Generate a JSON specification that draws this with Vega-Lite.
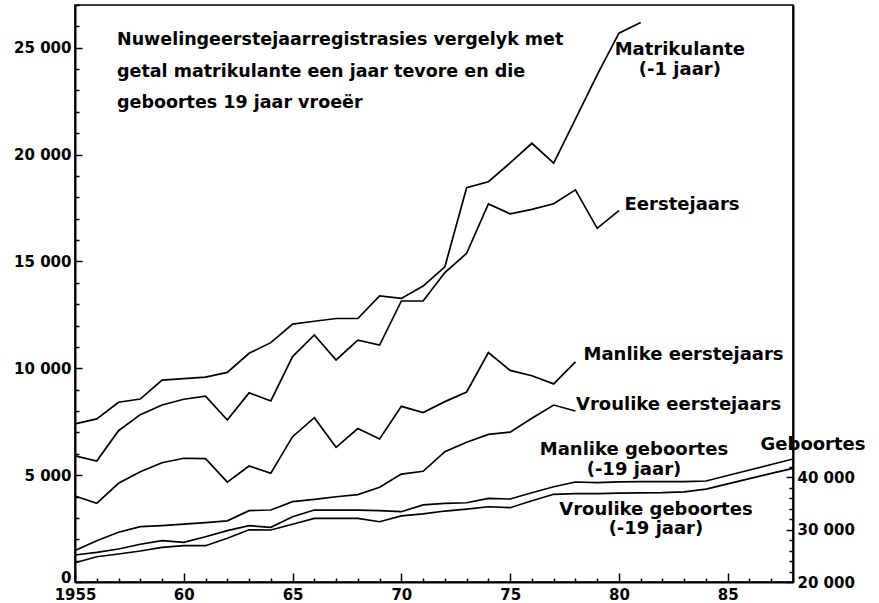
{
  "$schema": "https://vega.github.io/schema/vega-lite/v6.json",
  "width": 718,
  "height": 577,
  "autosize": {"type": "none"},
  "padding": {"left": 75, "top": 5, "right": 86, "bottom": 21},
  "background": "white",
  "config": {
    "view": {"stroke": "black", "strokeWidth": 1.6},
    "axis": {
      "domainColor": "black", "domainWidth": 2, "tickColor": "black", "tickWidth": 1.5,
      "labelColor": "black", "labelFont": "DejaVu Sans", "labelFontWeight": "bold", "labelFontSize": 15,
      "grid": false, "labelOverlap": false, "labelFlush": false, "labelBound": false, "title": null
    },
    "text": {"font": "DejaVu Sans", "fontWeight": "bold", "color": "black"}
  },
  "datasets": {
    "studente": [
      {"jaar":1955,"reeks":"Matrikulante","aantal":7400},{"jaar":1956,"reeks":"Matrikulante","aantal":7630},{"jaar":1957,"reeks":"Matrikulante","aantal":8410},{"jaar":1958,"reeks":"Matrikulante","aantal":8560},{"jaar":1959,"reeks":"Matrikulante","aantal":9450},{"jaar":1960,"reeks":"Matrikulante","aantal":9520},{"jaar":1961,"reeks":"Matrikulante","aantal":9590},{"jaar":1962,"reeks":"Matrikulante","aantal":9810},{"jaar":1963,"reeks":"Matrikulante","aantal":10700},{"jaar":1964,"reeks":"Matrikulante","aantal":11200},{"jaar":1965,"reeks":"Matrikulante","aantal":12070},{"jaar":1966,"reeks":"Matrikulante","aantal":12200},{"jaar":1967,"reeks":"Matrikulante","aantal":12330},{"jaar":1968,"reeks":"Matrikulante","aantal":12330},{"jaar":1969,"reeks":"Matrikulante","aantal":13390},{"jaar":1970,"reeks":"Matrikulante","aantal":13270},{"jaar":1971,"reeks":"Matrikulante","aantal":13850},{"jaar":1972,"reeks":"Matrikulante","aantal":14750},{"jaar":1973,"reeks":"Matrikulante","aantal":18450},{"jaar":1974,"reeks":"Matrikulante","aantal":18730},{"jaar":1975,"reeks":"Matrikulante","aantal":19610},{"jaar":1976,"reeks":"Matrikulante","aantal":20530},{"jaar":1977,"reeks":"Matrikulante","aantal":19600},{"jaar":1978,"reeks":"Matrikulante","aantal":21660},{"jaar":1979,"reeks":"Matrikulante","aantal":23730},{"jaar":1980,"reeks":"Matrikulante","aantal":25680},{"jaar":1981,"reeks":"Matrikulante","aantal":26180},
      {"jaar":1955,"reeks":"Eerstejaars","aantal":5900},{"jaar":1956,"reeks":"Eerstejaars","aantal":5660},{"jaar":1957,"reeks":"Eerstejaars","aantal":7080},{"jaar":1958,"reeks":"Eerstejaars","aantal":7830},{"jaar":1959,"reeks":"Eerstejaars","aantal":8280},{"jaar":1960,"reeks":"Eerstejaars","aantal":8550},{"jaar":1961,"reeks":"Eerstejaars","aantal":8700},{"jaar":1962,"reeks":"Eerstejaars","aantal":7580},{"jaar":1963,"reeks":"Eerstejaars","aantal":8850},{"jaar":1964,"reeks":"Eerstejaars","aantal":8470},{"jaar":1965,"reeks":"Eerstejaars","aantal":10550},{"jaar":1966,"reeks":"Eerstejaars","aantal":11560},{"jaar":1967,"reeks":"Eerstejaars","aantal":10390},{"jaar":1968,"reeks":"Eerstejaars","aantal":11320},{"jaar":1969,"reeks":"Eerstejaars","aantal":11090},{"jaar":1970,"reeks":"Eerstejaars","aantal":13150},{"jaar":1971,"reeks":"Eerstejaars","aantal":13150},{"jaar":1972,"reeks":"Eerstejaars","aantal":14480},{"jaar":1973,"reeks":"Eerstejaars","aantal":15380},{"jaar":1974,"reeks":"Eerstejaars","aantal":17690},{"jaar":1975,"reeks":"Eerstejaars","aantal":17230},{"jaar":1976,"reeks":"Eerstejaars","aantal":17440},{"jaar":1977,"reeks":"Eerstejaars","aantal":17700},{"jaar":1978,"reeks":"Eerstejaars","aantal":18350},{"jaar":1979,"reeks":"Eerstejaars","aantal":16550},{"jaar":1980,"reeks":"Eerstejaars","aantal":17380},
      {"jaar":1955,"reeks":"Manlike eerstejaars","aantal":4025},{"jaar":1956,"reeks":"Manlike eerstejaars","aantal":3680},{"jaar":1957,"reeks":"Manlike eerstejaars","aantal":4620},{"jaar":1958,"reeks":"Manlike eerstejaars","aantal":5160},{"jaar":1959,"reeks":"Manlike eerstejaars","aantal":5580},{"jaar":1960,"reeks":"Manlike eerstejaars","aantal":5790},{"jaar":1961,"reeks":"Manlike eerstejaars","aantal":5770},{"jaar":1962,"reeks":"Manlike eerstejaars","aantal":4670},{"jaar":1963,"reeks":"Manlike eerstejaars","aantal":5430},{"jaar":1964,"reeks":"Manlike eerstejaars","aantal":5090},{"jaar":1965,"reeks":"Manlike eerstejaars","aantal":6800},{"jaar":1966,"reeks":"Manlike eerstejaars","aantal":7690},{"jaar":1967,"reeks":"Manlike eerstejaars","aantal":6300},{"jaar":1968,"reeks":"Manlike eerstejaars","aantal":7180},{"jaar":1969,"reeks":"Manlike eerstejaars","aantal":6690},{"jaar":1970,"reeks":"Manlike eerstejaars","aantal":8220},{"jaar":1971,"reeks":"Manlike eerstejaars","aantal":7930},{"jaar":1972,"reeks":"Manlike eerstejaars","aantal":8440},{"jaar":1973,"reeks":"Manlike eerstejaars","aantal":8890},{"jaar":1974,"reeks":"Manlike eerstejaars","aantal":10740},{"jaar":1975,"reeks":"Manlike eerstejaars","aantal":9900},{"jaar":1976,"reeks":"Manlike eerstejaars","aantal":9650},{"jaar":1977,"reeks":"Manlike eerstejaars","aantal":9270},{"jaar":1978,"reeks":"Manlike eerstejaars","aantal":10300},
      {"jaar":1955,"reeks":"Vroulike eerstejaars","aantal":1470},{"jaar":1956,"reeks":"Vroulike eerstejaars","aantal":1930},{"jaar":1957,"reeks":"Vroulike eerstejaars","aantal":2330},{"jaar":1958,"reeks":"Vroulike eerstejaars","aantal":2590},{"jaar":1959,"reeks":"Vroulike eerstejaars","aantal":2640},{"jaar":1960,"reeks":"Vroulike eerstejaars","aantal":2710},{"jaar":1961,"reeks":"Vroulike eerstejaars","aantal":2780},{"jaar":1962,"reeks":"Vroulike eerstejaars","aantal":2860},{"jaar":1963,"reeks":"Vroulike eerstejaars","aantal":3340},{"jaar":1964,"reeks":"Vroulike eerstejaars","aantal":3370},{"jaar":1965,"reeks":"Vroulike eerstejaars","aantal":3760},{"jaar":1966,"reeks":"Vroulike eerstejaars","aantal":3870},{"jaar":1967,"reeks":"Vroulike eerstejaars","aantal":3990},{"jaar":1968,"reeks":"Vroulike eerstejaars","aantal":4090},{"jaar":1969,"reeks":"Vroulike eerstejaars","aantal":4430},{"jaar":1970,"reeks":"Vroulike eerstejaars","aantal":5050},{"jaar":1971,"reeks":"Vroulike eerstejaars","aantal":5180},{"jaar":1972,"reeks":"Vroulike eerstejaars","aantal":6100},{"jaar":1973,"reeks":"Vroulike eerstejaars","aantal":6540},{"jaar":1974,"reeks":"Vroulike eerstejaars","aantal":6910},{"jaar":1975,"reeks":"Vroulike eerstejaars","aantal":7010},{"jaar":1976,"reeks":"Vroulike eerstejaars","aantal":7660},{"jaar":1977,"reeks":"Vroulike eerstejaars","aantal":8280},{"jaar":1978,"reeks":"Vroulike eerstejaars","aantal":8000}
    ],
    "geboortes": [
      {"jaar":1955,"reeks":"Manlike geboortes","aantal":25150},{"jaar":1956,"reeks":"Manlike geboortes","aantal":25660},{"jaar":1957,"reeks":"Manlike geboortes","aantal":26290},{"jaar":1958,"reeks":"Manlike geboortes","aantal":27190},{"jaar":1959,"reeks":"Manlike geboortes","aantal":27870},{"jaar":1960,"reeks":"Manlike geboortes","aantal":27570},{"jaar":1961,"reeks":"Manlike geboortes","aantal":28630},{"jaar":1962,"reeks":"Manlike geboortes","aantal":29780},{"jaar":1963,"reeks":"Manlike geboortes","aantal":30730},{"jaar":1964,"reeks":"Manlike geboortes","aantal":30430},{"jaar":1965,"reeks":"Manlike geboortes","aantal":32450},{"jaar":1966,"reeks":"Manlike geboortes","aantal":33720},{"jaar":1967,"reeks":"Manlike geboortes","aantal":33720},{"jaar":1968,"reeks":"Manlike geboortes","aantal":33720},{"jaar":1969,"reeks":"Manlike geboortes","aantal":33590},{"jaar":1970,"reeks":"Manlike geboortes","aantal":33400},{"jaar":1971,"reeks":"Manlike geboortes","aantal":34700},{"jaar":1972,"reeks":"Manlike geboortes","aantal":35000},{"jaar":1973,"reeks":"Manlike geboortes","aantal":35110},{"jaar":1974,"reeks":"Manlike geboortes","aantal":35950},{"jaar":1975,"reeks":"Manlike geboortes","aantal":35820},{"jaar":1976,"reeks":"Manlike geboortes","aantal":37020},{"jaar":1977,"reeks":"Manlike geboortes","aantal":38160},{"jaar":1978,"reeks":"Manlike geboortes","aantal":39060},{"jaar":1979,"reeks":"Manlike geboortes","aantal":38950},{"jaar":1980,"reeks":"Manlike geboortes","aantal":39100},{"jaar":1981,"reeks":"Manlike geboortes","aantal":39120},{"jaar":1982,"reeks":"Manlike geboortes","aantal":39120},{"jaar":1983,"reeks":"Manlike geboortes","aantal":39150},{"jaar":1984,"reeks":"Manlike geboortes","aantal":39250},{"jaar":1985,"reeks":"Manlike geboortes","aantal":40300},{"jaar":1986,"reeks":"Manlike geboortes","aantal":41350},{"jaar":1987,"reeks":"Manlike geboortes","aantal":42400},{"jaar":1988,"reeks":"Manlike geboortes","aantal":43440},
      {"jaar":1955,"reeks":"Vroulike geboortes","aantal":23680},{"jaar":1956,"reeks":"Vroulike geboortes","aantal":24820},{"jaar":1957,"reeks":"Vroulike geboortes","aantal":25340},{"jaar":1958,"reeks":"Vroulike geboortes","aantal":25910},{"jaar":1959,"reeks":"Vroulike geboortes","aantal":26610},{"jaar":1960,"reeks":"Vroulike geboortes","aantal":26920},{"jaar":1961,"reeks":"Vroulike geboortes","aantal":26920},{"jaar":1962,"reeks":"Vroulike geboortes","aantal":28330},{"jaar":1963,"reeks":"Vroulike geboortes","aantal":29950},{"jaar":1964,"reeks":"Vroulike geboortes","aantal":29910},{"jaar":1965,"reeks":"Vroulike geboortes","aantal":31000},{"jaar":1966,"reeks":"Vroulike geboortes","aantal":32140},{"jaar":1967,"reeks":"Vroulike geboortes","aantal":32140},{"jaar":1968,"reeks":"Vroulike geboortes","aantal":32140},{"jaar":1969,"reeks":"Vroulike geboortes","aantal":31490},{"jaar":1970,"reeks":"Vroulike geboortes","aantal":32600},{"jaar":1971,"reeks":"Vroulike geboortes","aantal":33000},{"jaar":1972,"reeks":"Vroulike geboortes","aantal":33530},{"jaar":1973,"reeks":"Vroulike geboortes","aantal":33910},{"jaar":1974,"reeks":"Vroulike geboortes","aantal":34350},{"jaar":1975,"reeks":"Vroulike geboortes","aantal":34160},{"jaar":1976,"reeks":"Vroulike geboortes","aantal":35500},{"jaar":1977,"reeks":"Vroulike geboortes","aantal":36720},{"jaar":1978,"reeks":"Vroulike geboortes","aantal":36830},{"jaar":1979,"reeks":"Vroulike geboortes","aantal":36830},{"jaar":1980,"reeks":"Vroulike geboortes","aantal":36950},{"jaar":1981,"reeks":"Vroulike geboortes","aantal":37000},{"jaar":1982,"reeks":"Vroulike geboortes","aantal":37050},{"jaar":1983,"reeks":"Vroulike geboortes","aantal":37200},{"jaar":1984,"reeks":"Vroulike geboortes","aantal":37700},{"jaar":1985,"reeks":"Vroulike geboortes","aantal":38700},{"jaar":1986,"reeks":"Vroulike geboortes","aantal":39700},{"jaar":1987,"reeks":"Vroulike geboortes","aantal":40700},{"jaar":1988,"reeks":"Vroulike geboortes","aantal":41670}
    ]
  },
  "layer": [
    {
      "layer": [
        {
          "data": {"name": "studente"},
          "mark": {"type": "line", "color": "black", "strokeWidth": 1.7},
          "encoding": {
            "x": {"field": "jaar", "type": "quantitative",
              "scale": {"domain": [1955, 1988], "nice": false, "zero": false},
              "axis": {
                "labelOverlap": false, "labelBound": false, "labelFlush": false, "tickCount": 200,
                "values": [1955,1956,1957,1958,1959,1960,1961,1962,1963,1964,1965,1966,1967,1968,1969,1970,1971,1972,1973,1974,1975,1976,1977,1978,1979,1980,1981,1982,1983,1984,1985,1986,1987,1988],
                "labelExpr": "datum.value % 5 === 0 ? (datum.value === 1955 ? '1955' : slice(toString(datum.value), 2)) : ''",
                "tickSize": {"expr": "datum.value % 5 === 0 ? -9 : -4"},
                "labelPadding": 14
              }
            },
            "y": {"field": "aantal", "type": "quantitative",
              "scale": {"domain": [0, 27000], "nice": false, "zero": false},
              "axis": {
                "orient": "left",
                "labelOverlap": false, "labelBound": false, "labelFlush": false, "tickCount": 200,
                "values": [0,1000,2000,3000,4000,5000,6000,7000,8000,9000,10000,11000,12000,13000,14000,15000,16000,17000,18000,19000,20000,21000,22000,23000,24000,25000,26000,27000],
                "labelExpr": "datum.value % 5000 === 0 ? replace(format(datum.value, ','), ',', ' ') : ''",
                "tickSize": {"expr": "datum.value % 5000 === 0 ? -7 : -4"},
                "labelOffset": {"expr": "datum.value === 0 ? -5 : 0"},
                "labelPadding": 11
              }
            },
            "detail": {"field": "reeks"}
          }
        },
        {
          "data": {"values": [{}]},
          "mark": {"type": "text", "align": "left", "baseline": "alphabetic", "fontSize": 17.5, "lineHeight": 31.5,
            "text": ["Nuwelingeerstejaarregistrasies vergelyk met", "getal matrikulante een jaar tevore en die", "geboortes 19 jaar vroeër"]},
          "encoding": {"x": {"datum": 1956.93, "type": "quantitative"}, "y": {"datum": 25126, "type": "quantitative"}}
        },
        {
          "data": {"values": [{}]},
          "mark": {"type": "text", "align": "center", "baseline": "alphabetic", "fontSize": 18, "lineHeight": 20,
            "text": ["Matrikulante", "(-1 jaar)"]},
          "encoding": {"x": {"datum": 1982.8, "type": "quantitative"}, "y": {"datum": 24658, "type": "quantitative"}}
        },
        {
          "data": {"values": [{}]},
          "mark": {"type": "text", "align": "center", "baseline": "alphabetic", "fontSize": 18, "text": "Eerstejaars"},
          "encoding": {"x": {"datum": 1982.9, "type": "quantitative"}, "y": {"datum": 17406, "type": "quantitative"}}
        },
        {
          "data": {"values": [{}]},
          "mark": {"type": "text", "align": "center", "baseline": "alphabetic", "fontSize": 18, "text": "Manlike eerstejaars"},
          "encoding": {"x": {"datum": 1982.97, "type": "quantitative"}, "y": {"datum": 10387, "type": "quantitative"}}
        },
        {
          "data": {"values": [{}]},
          "mark": {"type": "text", "align": "center", "baseline": "alphabetic", "fontSize": 18, "text": "Vroulike eerstejaars"},
          "encoding": {"x": {"datum": 1982.74, "type": "quantitative"}, "y": {"datum": 8048, "type": "quantitative"}}
        },
        {
          "data": {"values": [{}]},
          "mark": {"type": "text", "align": "center", "baseline": "alphabetic", "fontSize": 18, "lineHeight": 20,
            "text": ["Manlike geboortes", "(-19 jaar)"]},
          "encoding": {"x": {"datum": 1980.69, "type": "quantitative"}, "y": {"datum": 5942, "type": "quantitative"}}
        },
        {
          "data": {"values": [{}]},
          "mark": {"type": "text", "align": "center", "baseline": "alphabetic", "fontSize": 18, "lineHeight": 19,
            "text": ["Vroulike geboortes", "(-19 jaar)"]},
          "encoding": {"x": {"datum": 1981.7, "type": "quantitative"}, "y": {"datum": 3135, "type": "quantitative"}}
        },
        {
          "data": {"values": [{}]},
          "mark": {"type": "text", "align": "center", "baseline": "alphabetic", "fontSize": 18, "text": "Geboortes"},
          "encoding": {"x": {"datum": 1988.92, "type": "quantitative"}, "y": {"datum": 6176, "type": "quantitative"}}
        }
      ]
    },
    {
      "data": {"name": "geboortes"},
      "mark": {"type": "line", "color": "black", "strokeWidth": 1.7},
      "encoding": {
        "x": {"field": "jaar", "type": "quantitative"},
        "y": {"field": "aantal", "type": "quantitative",
          "scale": {"domain": [20000, 130000], "nice": false, "zero": false},
          "axis": {
            "orient": "right",
            "labelOverlap": false, "labelBound": false, "labelFlush": false, "tickCount": 200,
            "values": [20000,22000,24000,26000,28000,30000,32000,34000,36000,38000,40000,42000],
            "labelExpr": "datum.value % 10000 === 0 ? replace(format(datum.value, ','), ',', ' ') : ''",
            "tickSize": {"expr": "datum.value % 10000 === 0 ? -7 : -4"},
            "labelPadding": 11
          }
        },
        "detail": {"field": "reeks"}
      }
    }
  ],
  "resolve": {"scale": {"y": "independent"}}
}
